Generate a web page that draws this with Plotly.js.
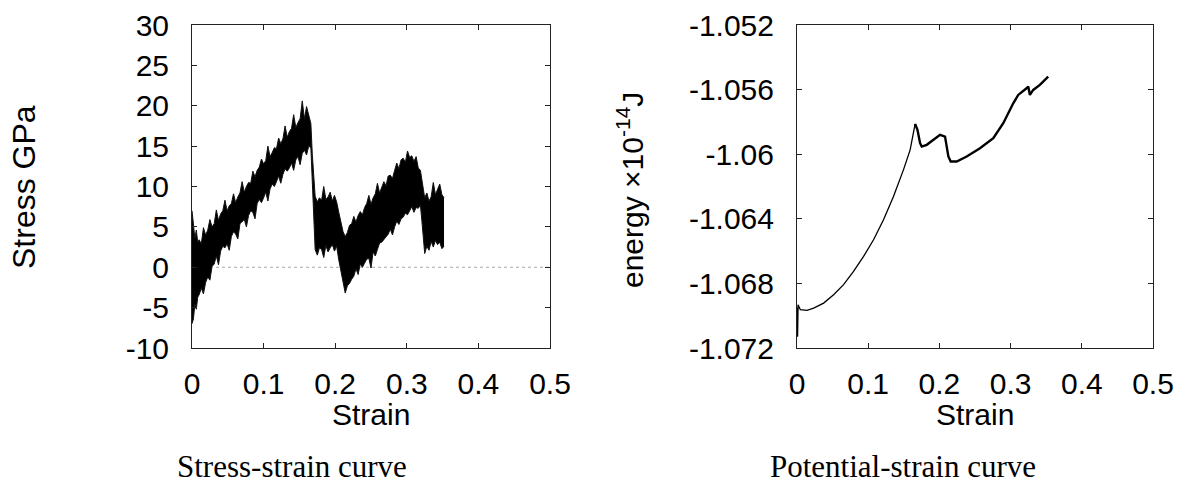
<!DOCTYPE html>
<html>
<head>
<meta charset="utf-8">
<script src="https://cdn.plot.ly/plotly-3.0.1.min.js"></script>
<style>html,body{margin:0;padding:0;background:#fff;}#chart{width:1184px;height:483px;}</style>
</head>
<body>
<div id="chart"></div>
<script>
// ---- Stress-strain: band of the noisy signal (upper / lower envelope)
const stressStrain = [0.000,0.002,0.004,0.006,0.008,0.010,0.013,0.016,0.019,0.022,0.025,0.028,0.031,0.034,0.037,0.040,0.043,0.046,0.049,0.052,0.055,0.058,0.061,0.064,0.067,0.070,0.073,0.076,0.079,0.082,0.085,0.088,0.091,0.094,0.097,0.100,0.103,0.106,0.109,0.112,0.115,0.118,0.121,0.124,0.127,0.130,0.133,0.136,0.139,0.142,0.145,0.148,0.151,0.154,0.157,0.160,0.163,0.166,0.168,0.170,0.172,0.175,0.178,0.181,0.184,0.187,0.190,0.193,0.196,0.199,0.202,0.205,0.208,0.211,0.214,0.217,0.220,0.223,0.226,0.229,0.232,0.235,0.238,0.241,0.244,0.247,0.250,0.253,0.256,0.259,0.262,0.265,0.268,0.271,0.274,0.277,0.280,0.283,0.286,0.289,0.292,0.295,0.298,0.301,0.304,0.307,0.310,0.313,0.316,0.319,0.321,0.323,0.325,0.328,0.331,0.334,0.337,0.340,0.343,0.346,0.349,0.352];
const stressUpper = [7.0,5.2,3.6,4.6,3.1,3.4,2.9,4.9,4.0,4.6,5.9,5.0,5.4,7.1,5.8,6.6,7.0,8.3,7.0,7.6,7.9,9.1,8.0,8.7,9.2,10.6,9.3,10.0,10.5,10.4,11.9,11.2,12.0,12.4,13.4,12.8,13.2,15.0,13.7,14.2,14.8,14.7,16.0,15.3,15.9,17.5,16.1,16.8,17.2,18.9,17.3,17.9,18.4,20.6,18.4,19.9,19.0,17.8,14.0,10.5,8.8,8.1,8.6,8.3,10.0,8.4,8.7,9.3,8.2,8.9,8.1,6.8,5.6,4.4,3.8,4.3,5.2,5.4,6.3,5.6,6.4,6.9,6.5,7.4,7.9,8.9,7.8,8.6,9.1,10.4,9.2,9.9,10.6,10.1,11.3,11.4,11.0,12.0,12.9,12.2,13.3,13.5,13.0,14.4,13.6,13.8,13.1,13.7,12.3,12.0,11.0,9.6,8.6,9.2,8.2,8.7,10.5,9.0,9.6,10.3,9.0,8.6];
const stressLower = [-7.0,-6.4,-4.6,-5.2,-3.7,-3.4,-2.6,-3.3,-1.9,-1.2,-1.6,0.1,0.4,1.4,0.3,2.0,2.6,2.4,2.9,2.1,3.8,4.4,4.1,3.5,5.4,5.6,5.9,5.0,6.4,7.0,6.8,6.0,7.9,8.4,8.0,8.6,9.3,8.2,9.7,10.3,10.0,10.6,11.3,10.4,11.5,12.2,11.9,12.3,12.9,12.0,13.3,13.7,12.7,14.1,14.5,13.9,15.0,14.8,11.0,6.0,2.2,1.5,2.4,2.2,1.2,2.7,1.9,2.4,2.8,2.0,2.6,0.9,-0.6,-1.8,-3.2,-2.3,-2.0,-1.5,-1.1,-0.2,-0.9,0.4,0.0,0.5,1.0,1.1,-0.1,1.9,1.4,2.2,3.0,3.1,3.4,3.8,4.1,4.7,4.0,5.0,5.7,5.3,6.0,6.2,6.7,6.5,7.0,7.5,6.8,7.4,7.3,7.7,5.8,3.5,1.7,2.6,2.1,3.2,2.5,3.3,2.8,3.1,2.3,2.6];

// ---- Potential-strain curve
const energyStrain = [0,0.0008,0.0015,0.0047,0.014,0.0234,0.0374,0.0514,0.0654,0.0794,0.0935,0.1075,0.1215,0.1355,0.1495,0.1589,0.1659,0.1692,0.1729,0.1752,0.1822,0.1916,0.2009,0.2079,0.2126,0.2159,0.2243,0.2383,0.2570,0.2757,0.2897,0.3037,0.3107,0.3224,0.3248,0.3271,0.3318,0.3411,0.3528];
const energy = [-1.0695,-1.0713,-1.06932,-1.06963,-1.06967,-1.06953,-1.06922,-1.0687,-1.06808,-1.06726,-1.06633,-1.0653,-1.06406,-1.06262,-1.06097,-1.05973,-1.05812,-1.05849,-1.05932,-1.05953,-1.05942,-1.05911,-1.0588,-1.05891,-1.06014,-1.06045,-1.06045,-1.06014,-1.05963,-1.05901,-1.05808,-1.05685,-1.05633,-1.05592,-1.05581,-1.05633,-1.05602,-1.05571,-1.0552];
const energyPeakIndex = 16;

// ---- tick labels
const strainTickVals = [0,0.1,0.2,0.3,0.4,0.5];
const strainTickText = ["0","0.1","0.2","0.3","0.4","0.5"];
const stressTickVals = [-10,-5,0,5,10,15,20,25,30];
const stressTickText = ["-10","-5","0","5","10","15","20","25","30"];
const energyTickVals = [-1.072,-1.068,-1.064,-1.06,-1.056,-1.052];
const energyTickText = ["-1.072","-1.068","-1.064","-1.06","-1.056","-1.052"];

const sans = "Liberation Sans, Arial, sans-serif";
const serif = "Liberation Serif, Times New Roman, serif";

const traces = [
  {x: stressStrain, y: stressLower, xaxis:'x', yaxis:'y', type:'scatter', mode:'lines',
   line:{color:'#111', width:1}, hoverinfo:'skip', showlegend:false},
  {x: stressStrain, y: stressUpper, xaxis:'x', yaxis:'y', type:'scatter', mode:'lines',
   fill:'tonexty', fillcolor:'#000', line:{color:'#111', width:1}, hoverinfo:'skip', showlegend:false},
  {x: energyStrain.slice(0, energyPeakIndex+1), y: energy.slice(0, energyPeakIndex+1), xaxis:'x2', yaxis:'y2',
   type:'scatter', mode:'lines', line:{color:'#000', width:1.3}, hoverinfo:'skip', showlegend:false},
  {x: energyStrain.slice(energyPeakIndex), y: energy.slice(energyPeakIndex), xaxis:'x2', yaxis:'y2',
   type:'scatter', mode:'lines', line:{color:'#000', width:2.4}, hoverinfo:'skip', showlegend:false}
];

const axisCommon = {
  showline:true, mirror:'ticks', linecolor:'#222', linewidth:1,
  ticks:'inside', ticklen:5, tickcolor:'#222', tickwidth:1,
  showgrid:false, zeroline:false, tickmode:'array',
  tickfont:{family:sans, size:30, color:'#000'}, fixedrange:true
};

const yTop = 1 - 25/483, yBot = 1 - 348/483;

const layout = {
  width:1184, height:483, margin:{l:0,r:0,t:0,b:0},
  paper_bgcolor:'#fff', plot_bgcolor:'#fff', showlegend:false,
  xaxis: Object.assign({}, axisCommon, {domain:[192/1184, 550/1184], range:[0,0.5], tickvals:strainTickVals, ticktext:strainTickText, anchor:'y', ticklabelstandoff:9}),
  yaxis: Object.assign({}, axisCommon, {domain:[yBot, yTop], range:[-10,30], tickvals:stressTickVals, ticktext:stressTickText, anchor:'x', ticklabelstandoff:16}),
  xaxis2: Object.assign({}, axisCommon, {domain:[797/1184, 1153/1184], range:[0,0.5], tickvals:strainTickVals, ticktext:strainTickText, anchor:'y2', ticklabelstandoff:9}),
  yaxis2: Object.assign({}, axisCommon, {domain:[yBot, yTop], range:[-1.072,-1.052], tickvals:energyTickVals, ticktext:energyTickText, anchor:'x2', ticklabelstandoff:16}),
  shapes: [
    {type:'line', xref:'x', yref:'y', x0:0, x1:0.5, y0:0, y1:0, layer:'below',
     line:{color:'#aaa', width:1, dash:'dot'}}
  ],
  annotations: [
    {text:'Strain', xref:'paper', yref:'paper', x:371/1184, y:1-414/483, showarrow:false,
     xanchor:'center', yanchor:'middle', font:{family:sans, size:30, color:'#000'}},
    {text:'Strain', xref:'paper', yref:'paper', x:975/1184, y:1-414/483, showarrow:false,
     xanchor:'center', yanchor:'middle', font:{family:sans, size:30, color:'#000'}},
    {text:'Stress GPa', xref:'paper', yref:'paper', x:24/1184, y:1-187/483, showarrow:false, textangle:-90,
     xanchor:'center', yanchor:'middle', font:{family:sans, size:32, color:'#000'}},
    {text:'energy ×10<sup>-14</sup>J', xref:'paper', yref:'paper', x:630/1184, y:1-190/483, showarrow:false, textangle:-90,
     xanchor:'center', yanchor:'middle', font:{family:sans, size:30, color:'#000'}},
    {text:'Stress-strain curve', xref:'paper', yref:'paper', x:292/1184, y:1-466/483, showarrow:false,
     xanchor:'center', yanchor:'middle', font:{family:serif, size:31, color:'#000'}},
    {text:'Potential-strain curve', xref:'paper', yref:'paper', x:903/1184, y:1-466/483, showarrow:false,
     xanchor:'center', yanchor:'middle', font:{family:serif, size:31, color:'#000'}}
  ]
};

Plotly.newPlot('chart', traces, layout, {displayModeBar:false, staticPlot:true});
</script>
</body>
</html>
